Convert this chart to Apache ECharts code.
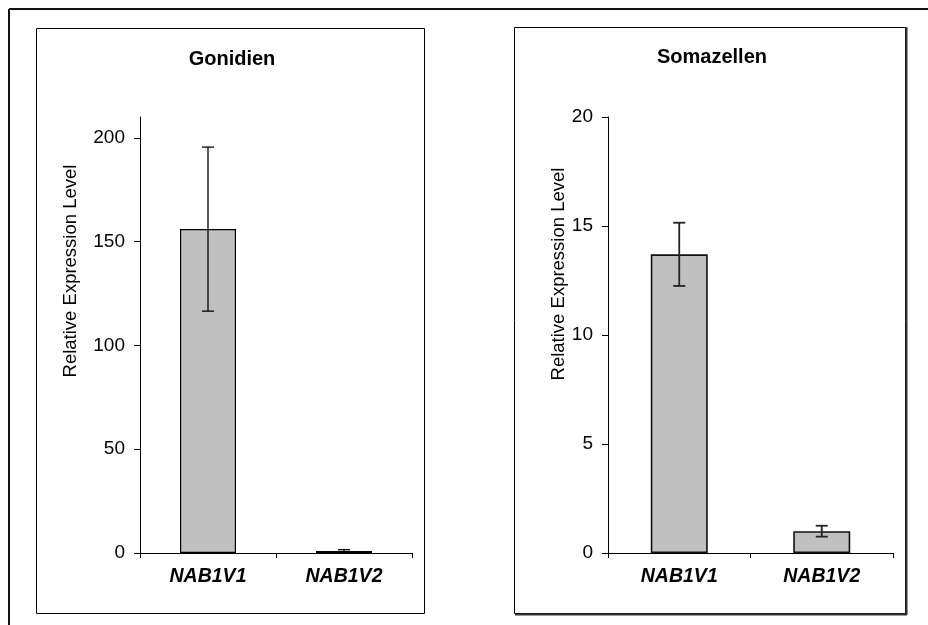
<!DOCTYPE html>
<html>
<head>
<meta charset="utf-8">
<script src="https://cdn.jsdelivr.net/npm/echarts@6/dist/echarts.min.js"></script>
<style>
html,body{margin:0;padding:0;background:#fff;}
#c{width:928px;height:625px;}
</style>
</head>
<body>
<div id="c"></div>
<script>
// ---- data ----
var categories = ['NAB1V1', 'NAB1V2'];
var gonidienValues = [156, 1.0];
var gonidienErrors = [39.5, 0.6];
var somaValues = [13.7, 1.0];
var somaErrors = [1.45, 0.25];
var gonidienTicks = [0, 50, 100, 150, 200];
var somaTicks = [0, 5, 10, 15, 20];
var titles = ['Gonidien', 'Somazellen'];
var yTitle = 'Relative Expression Level';

var FONT = 'Arial, "Liberation Sans", sans-serif';
var chart = echarts.init(document.getElementById('c'), null, {renderer: 'canvas'});

function errSeries(idx, vals, errs, lw, col) {
  return {
    type: 'custom',
    xAxisIndex: idx, yAxisIndex: idx,
    data: vals.map(function (v, i) { return [i, v, errs[i]]; }),
    z: 10,
    renderItem: function (params, api) {
      var x = api.value(0), v = api.value(1), e = api.value(2);
      var top = api.coord([x, v + e]);
      var bot = api.coord([x, v - e]);
      var hw = 6;
      var st = {stroke: col, lineWidth: lw};
      return {type: 'group', children: [
        {type: 'line', shape: {x1: top[0], y1: top[1], x2: bot[0], y2: bot[1]}, style: st},
        {type: 'line', shape: {x1: top[0] - hw, y1: top[1], x2: top[0] + hw, y2: top[1]}, style: st},
        {type: 'line', shape: {x1: bot[0] - hw, y1: bot[1], x2: bot[0] + hw, y2: bot[1]}, style: st}
      ]};
    }
  };
}

function xAxis(idx) {
  return {
    type: 'category', gridIndex: idx, data: categories,
    axisLine: {lineStyle: {color: '#000', width: 1}},
    axisTick: {show: true, length: 5, lineStyle: {color: '#000'}},
    axisLabel: {color: '#000', fontFamily: FONT, fontSize: 19.5, fontWeight: 'bold', fontStyle: 'italic', margin: 14},
    splitLine: {show: false}
  };
}
function yAxis(idx, max, interval, ticks) {
  return {
    type: 'value', gridIndex: idx, min: 0, max: max, interval: interval,
    axisLine: {show: true, lineStyle: {color: '#000', width: 1}},
    axisTick: {show: true, length: 6, lineStyle: {color: '#000'}, customValues: ticks},
    axisLabel: {color: '#000', fontFamily: FONT, fontSize: 19, margin: 15, customValues: ticks},
    splitLine: {show: false}
  };
}

var option = {
  backgroundColor: '#fff',
  animation: false,
  grid: [
    {left: 140, right: 516, top: 117, bottom: 72},
    {left: 608, right: 35, top: 117, bottom: 72}
  ],
  xAxis: [xAxis(0), xAxis(1)],
  yAxis: [yAxis(0, 210, 50, gonidienTicks), yAxis(1, 20, 5, somaTicks)],
  graphic: [
    // outer frame
    {type: 'line', shape: {x1: 9, y1: 9, x2: 928, y2: 9}, style: {stroke: '#111', lineWidth: 2}},
    {type: 'line', shape: {x1: 9, y1: 9, x2: 9, y2: 625}, style: {stroke: '#111', lineWidth: 2}},
    // panel frames
    {type: 'rect', shape: {x: 36.5, y: 28.5, width: 388, height: 585}, style: {fill: null, stroke: '#000', lineWidth: 1}},
    {type: 'rect', shape: {x: 514.5, y: 27.5, width: 391, height: 586}, style: {fill: null, stroke: '#000', lineWidth: 1}},
    {type: 'line', shape: {x1: 906.5, y1: 27, x2: 906.5, y2: 615}, style: {stroke: '#333', lineWidth: 2}},
    {type: 'line', shape: {x1: 515, y1: 614.5, x2: 907, y2: 614.5}, style: {stroke: '#333', lineWidth: 2}},
    // titles
    {type: 'text', x: 232, y: 59, style: {text: titles[0], fontFamily: FONT, fontSize: 20, fontWeight: 'bold', fill: '#000', align: 'center', verticalAlign: 'middle'}},
    {type: 'text', x: 712, y: 57, style: {text: titles[1], fontFamily: FONT, fontSize: 20, fontWeight: 'bold', fill: '#000', align: 'center', verticalAlign: 'middle'}},
    // y axis titles
    {type: 'text', x: 71, y: 271, rotation: Math.PI / 2, style: {text: yTitle, fontFamily: FONT, fontSize: 18.5, fill: '#000', align: 'center', verticalAlign: 'middle'}},
    {type: 'text', x: 559, y: 274, rotation: Math.PI / 2, style: {text: yTitle, fontFamily: FONT, fontSize: 18.5, fill: '#000', align: 'center', verticalAlign: 'middle'}}
  ],
  series: [
    {type: 'bar', xAxisIndex: 0, yAxisIndex: 0, data: gonidienValues, barWidth: 56,
     itemStyle: {color: '#C0C0C0', borderColor: '#000', borderWidth: 1.2}},
    {type: 'bar', xAxisIndex: 1, yAxisIndex: 1, data: somaValues, barWidth: 57,
     itemStyle: {color: '#C0C0C0', borderColor: '#111', borderWidth: 1.6}},
    errSeries(0, gonidienValues, gonidienErrors, 1.3, '#000'),
    errSeries(1, somaValues, somaErrors, 1.8, '#222')
  ]
};
chart.setOption(option);
</script>
</body>
</html>
